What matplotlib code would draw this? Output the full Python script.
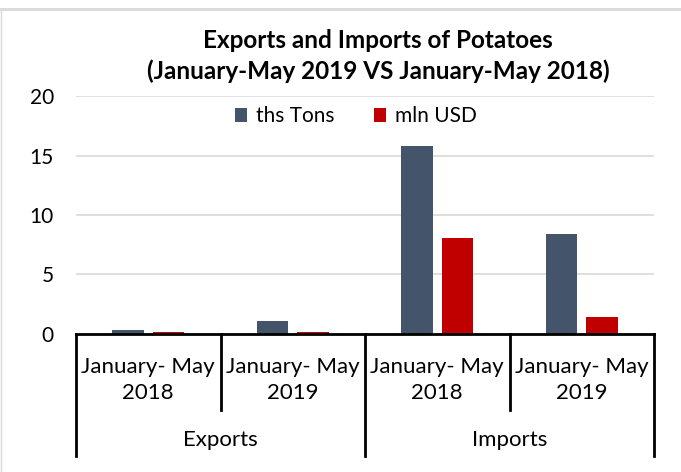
import matplotlib.pyplot as plt
import matplotlib.transforms as mtransforms
from matplotlib.lines import Line2D
import numpy as np

plt.rcParams['font.family'] = ['Lato', 'DejaVu Sans']

groups = ['Exports', 'Imports']
periods = ['January- May\n2018', 'January- May\n2019', 'January- May\n2018', 'January- May\n2019']
ths_tons = [0.35, 1.1, 15.8, 8.4]
mln_usd = [0.15, 0.2, 8.1, 1.4]
yticks = [0, 5, 10, 15, 20]

navy = '#44546a'
red = '#c00000'

fig = plt.figure(figsize=(6.81, 4.72), dpi=100)
ax = fig.add_axes([0.1116, 0.2924, 0.8488, 0.5042])

x = np.arange(len(periods))
w = 0.22
ax.bar(x - 0.14, ths_tons, w, color=navy, label='ths Tons', zorder=3)
ax.bar(x + 0.14, mln_usd, w, color=red, label='mln USD', zorder=3)

ax.set_xlim(-0.5, len(periods) - 0.5)
ax.set_ylim(0, 20)
ax.set_yticks(yticks)
ax.tick_params(axis='y', length=0, labelsize=15, pad=16)
ax.tick_params(axis='x', length=0, labelbottom=False)
ax.yaxis.grid(True, color='#d9d9d9', linewidth=1.2, zorder=0)
for s in ['top', 'right', 'left']:
    ax.spines[s].set_visible(False)
ax.spines['bottom'].set_linewidth(2)
ax.spines['bottom'].set_zorder(4)

# two-level category axis below the plot
trans = mtransforms.blended_transform_factory(ax.transData, fig.transFigure)
y0 = 1 - 334 / 472
y_inner = 1 - 410 / 472
y_outer = 1 - 456 / 472
for b in np.arange(-0.5, len(periods), 1.0):
    bottom = y_outer if b in (-0.5, 1.5, 3.5) else y_inner
    fig.add_artist(Line2D([b, b], [y0, bottom], transform=trans,
                          color='black', linewidth=2))
for i, lab in enumerate(periods):
    fig.text(i, 1 - 380 / 472, lab, transform=trans, ha='center', va='center',
             fontsize=16, linespacing=1.35)
for j, g in enumerate(groups):
    fig.text(2 * j + 0.5, 1 - 440 / 472, g, transform=trans, ha='center',
             va='center', fontsize=16)

fig.text(378 / 681, 1 - 56 / 472,
         'Exports and Imports of Potatoes\n(January-May 2019 VS January-May 2018)',
         ha='center', va='center', fontsize=17.5, fontweight='bold', linespacing=1.4)

ax.legend(loc='center', bbox_to_anchor=(0.484, 0.915), ncol=2, frameon=False,
          fontsize=15, handlelength=0.6, handleheight=0.6, columnspacing=1.9,
          handletextpad=0.4)

# outer chart border
fig.add_artist(Line2D([0, 1], [1 - 9 / 472] * 2, transform=fig.transFigure,
                      color='#d9d9d9', linewidth=2))
fig.add_artist(Line2D([0.001, 0.001], [0, 1 - 9 / 472], transform=fig.transFigure,
                      color='#d9d9d9', linewidth=1))

fig.savefig('out.png', dpi=100)
